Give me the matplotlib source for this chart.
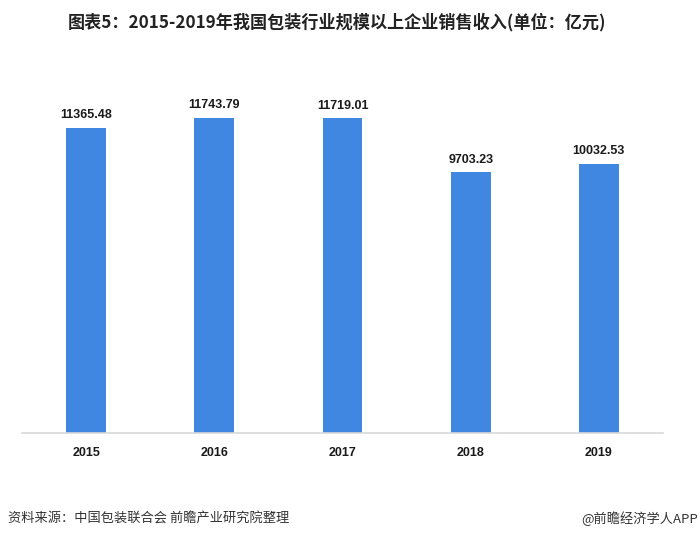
import matplotlib
matplotlib.use("Agg")
import matplotlib.pyplot as plt

plt.rcParams["font.family"] = ["Noto Sans CJK SC", "DejaVu Sans"]

years = ["2015", "2016", "2017", "2018", "2019"]
sales = [11365.48, 11743.79, 11719.01, 9703.23, 10032.53]

fig = plt.figure(figsize=(7, 5.39), dpi=100)
ax = fig.add_axes([22 / 700, 1 - 433 / 539, 641 / 700, (433 - 57) / 539])

x = range(len(years))
ax.bar(x, sales, width=0.31, color="#3f87e0")
for i, v in zip(x, sales):
    ax.text(i, v + 250, f"{v:.2f}", ha="center", va="bottom", fontsize=9,
            fontweight="bold", color="#1a1a1a", family="Liberation Sans")

ax.set_xlim(-0.5, 4.5)
ax.set_ylim(0, 14000)
ax.set_xticks(list(x))
ax.set_xticklabels(years, fontsize=9, fontweight="bold", color="#1a1a1a", family="Liberation Sans")
ax.tick_params(axis="x", length=0, pad=10)
ax.set_yticks([])
for s in ["top", "right", "left"]:
    ax.spines[s].set_visible(False)
ax.spines["bottom"].set_color("#d9d9d9")
ax.spines["bottom"].set_linewidth(1.2)

fig.text(337 / 700, 1 - 22 / 539, "图表5：2015-2019年我国包装行业规模以上企业销售收入(单位：亿元)",
         ha="center", va="center", fontsize=12.3, fontweight="bold", color="#222222")
fig.text(8 / 700, 1 - 519 / 539, "资料来源：中国包装联合会 前瞻产业研究院整理",
         ha="left", va="center", fontsize=9.5, color="#333333")
fig.text(698 / 700, 1 - 519 / 539, "@前瞻经济学人APP",
         ha="right", va="center", fontsize=9.5, color="#333333")

fig.savefig("out.png", dpi=100)
